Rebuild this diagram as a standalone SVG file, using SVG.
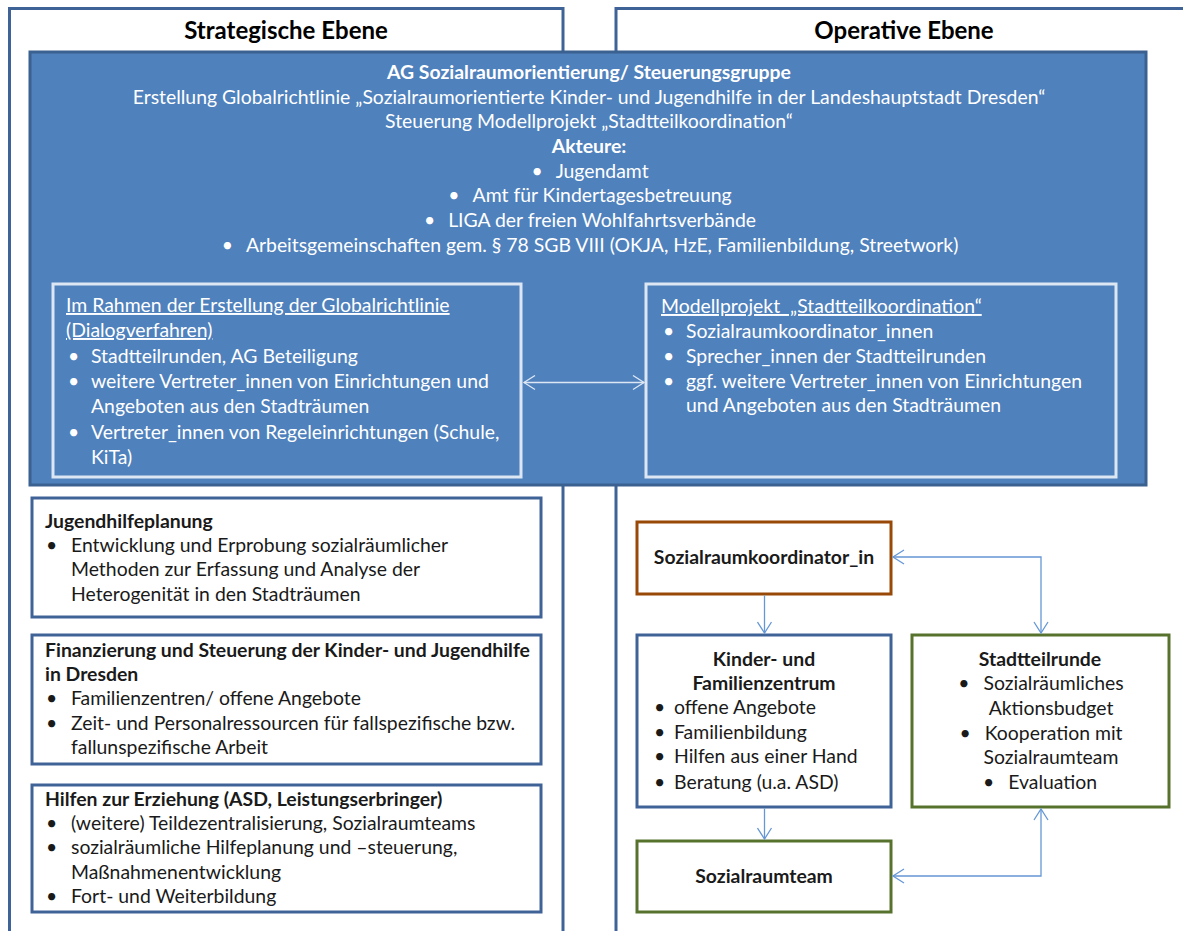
<svg xmlns="http://www.w3.org/2000/svg" width="1183" height="931" viewBox="0 0 1183 931">
<style>
text{font-family:Lato,"Liberation Sans",sans-serif;font-size:19.4px;fill:#1a1a1a}
.b{font-weight:bold}
.w{fill:#ffffff}
.h{font-size:24px;font-weight:bold;fill:#000}
.u{text-decoration:underline}
.col{fill:#fff;stroke:#3f6397;stroke-width:3}
.blue{fill:#4f81bd;stroke:#3b6190;stroke-width:3}
.inner{fill:#4f81bd;stroke:#dde7f3;stroke-width:3}
.bx{fill:#fff;stroke:#3f6397;stroke-width:3}
.or{fill:#fff;stroke:#984807;stroke-width:3}
.gr{fill:#fff;stroke:#56722d;stroke-width:3}
.con{fill:none;stroke:#6597d6;stroke-width:1.3}
.conw{fill:none;stroke:#dde7f3;stroke-width:1.3}
</style>
<defs>
<marker id="ah" markerUnits="userSpaceOnUse" markerWidth="14" markerHeight="16" refX="12" refY="8" orient="auto-start-reverse" viewBox="0 0 14 16">
<path d="M1,1 L12,8 L1,15" fill="none" stroke="#6597d6" stroke-width="1.3"/>
</marker>
<marker id="ahw" markerUnits="userSpaceOnUse" markerWidth="14" markerHeight="16" refX="12" refY="8" orient="auto-start-reverse" viewBox="0 0 14 16">
<path d="M1,1 L12,8 L1,15" fill="none" stroke="#dde7f3" stroke-width="1.3"/>
</marker>
</defs>
<rect width="1183" height="931" fill="#fff"/>

<g id="col-strategisch">
<rect class="col" x="9.5" y="8.5" width="553.5" height="940"/>
<text class="h" x="286" y="39" text-anchor="middle">Strategische Ebene</text>
</g>
<g id="col-operativ">
<rect class="col" x="616" y="8.5" width="600" height="940"/>
<text class="h" x="904" y="39" text-anchor="middle">Operative Ebene</text>
</g>

<g id="ag-steuerungsgruppe">
<rect class="blue" x="30" y="52" width="1116" height="433"/>
<text class="w b" x="589" y="79" text-anchor="middle">AG Sozialraumorientierung/ Steuerungsgruppe</text>
<text class="w" x="589" y="104" text-anchor="middle">Erstellung Globalrichtlinie „Sozialraumorientierte Kinder- und Jugendhilfe in der Landeshauptstadt Dresden“</text>
<text class="w" x="589" y="128" text-anchor="middle">Steuerung Modellprojekt „Stadtteilkoordination“</text>
<text class="w b" x="589" y="153" text-anchor="middle">Akteure:</text>
<text class="w" x="590" y="178" text-anchor="middle">•<tspan dx="13">Jugendamt</tspan></text>
<text class="w" x="590" y="202" text-anchor="middle">•<tspan dx="13">Amt für Kindertagesbetreuung</tspan></text>
<text class="w" x="590" y="227" text-anchor="middle">•<tspan dx="13">LIGA der freien Wohlfahrtsverbände</tspan></text>
<text class="w" x="590" y="252" text-anchor="middle">•<tspan dx="13">Arbeitsgemeinschaften gem. § 78 SGB VIII (OKJA, HzE, Familienbildung, Streetwork)</tspan></text>
</g>

<g id="dialogverfahren">
<rect class="inner" x="53" y="284" width="468" height="193"/>
<text class="w u" x="66" y="312">Im Rahmen der Erstellung der Globalrichtlinie</text>
<text class="w u" x="66" y="337">(Dialogverfahren)</text>
<text class="w" x="68" y="363">•</text><text class="w" x="91" y="363">Stadtteilrunden, AG Beteiligung</text>
<text class="w" x="68" y="388">•</text><text class="w" x="91" y="388">weitere Vertreter_innen von Einrichtungen und</text>
<text class="w" x="91" y="413">Angeboten aus den Stadträumen</text>
<text class="w" x="68" y="439">•</text><text class="w" x="91" y="439">Vertreter_innen von Regeleinrichtungen (Schule,</text>
<text class="w" x="91" y="464">KiTa)</text>
</g>

<g id="modellprojekt">
<rect class="inner" x="646" y="284" width="470" height="193"/>
<text class="w u" x="661" y="313" xml:space="preserve">Modellprojekt  „Stadtteilkoordination“</text>
<text class="w" x="663" y="338">•</text><text class="w" x="686" y="338">Sozialraumkoordinator_innen</text>
<text class="w" x="663" y="363">•</text><text class="w" x="686" y="363">Sprecher_innen der Stadtteilrunden</text>
<text class="w" x="663" y="388">•</text><text class="w" x="686" y="388">ggf. weitere Vertreter_innen von Einrichtungen</text>
<text class="w" x="686" y="412">und Angeboten aus den Stadträumen</text>
</g>

<g id="jugendhilfeplanung">
<rect class="bx" x="32" y="498" width="509" height="119"/>
<text class="b" x="45" y="528">Jugendhilfeplanung</text>
<text x="46" y="552">•</text><text x="71" y="552">Entwicklung und Erprobung sozialräumlicher</text>
<text x="71" y="576">Methoden zur Erfassung und Analyse der</text>
<text x="71" y="601">Heterogenität in den Stadträumen</text>
</g>

<g id="finanzierung">
<rect class="bx" x="32" y="635" width="509" height="129"/>
<text class="b" x="45" y="657">Finanzierung und Steuerung der Kinder- und Jugendhilfe</text>
<text class="b" x="45" y="681">in Dresden</text>
<text x="46" y="705">•</text><text x="71" y="705">Familienzentren/ offene Angebote</text>
<text x="46" y="730">•</text><text x="71" y="730">Zeit- und Personalressourcen für fallspezifische bzw.</text>
<text x="71" y="754">fallunspezifische Arbeit</text>
</g>

<g id="hilfen-erziehung">
<rect class="bx" x="32" y="785" width="509" height="127"/>
<text class="b" x="45" y="806">Hilfen zur Erziehung (ASD, Leistungserbringer)</text>
<text x="46" y="830">•</text><text x="71" y="830">(weitere) Teildezentralisierung, Sozialraumteams</text>
<text x="46" y="854">•</text><text x="71" y="854">sozialräumliche Hilfeplanung und –steuerung,</text>
<text x="71" y="879">Maßnahmenentwicklung</text>
<text x="46" y="903">•</text><text x="71" y="903">Fort- und Weiterbildung</text>
</g>

<g id="sozialraumkoordinator">
<rect class="or" x="637" y="522" width="254" height="72"/>
<text class="b" x="764" y="564" text-anchor="middle">Sozialraumkoordinator_in</text>
</g>

<g id="kinder-familienzentrum">
<rect class="bx" x="637" y="635" width="254" height="172"/>
<text class="b" x="764" y="666" text-anchor="middle">Kinder- und</text>
<text class="b" x="764" y="690" text-anchor="middle">Familienzentrum</text>
<text x="654" y="714">•</text><text x="674" y="714">offene Angebote</text>
<text x="654" y="739">•</text><text x="674" y="739">Familienbildung</text>
<text x="654" y="763">•</text><text x="674" y="763">Hilfen aus einer Hand</text>
<text x="654" y="789">•</text><text x="674" y="789">Beratung (u.a. ASD)</text>
</g>

<g id="stadtteilrunde">
<rect class="gr" x="912" y="635" width="257" height="172"/>
<text class="b" x="1040" y="666" text-anchor="middle">Stadtteilrunde</text>
<text x="1041" y="690" text-anchor="middle">•<tspan dx="14">Sozialräumliches</tspan></text>
<text x="1051" y="715" text-anchor="middle">Aktionsbudget</text>
<text x="1041" y="740" text-anchor="middle">•<tspan dx="14">Kooperation mit</tspan></text>
<text x="1051" y="764" text-anchor="middle">Sozialraumteam</text>
<text x="1040" y="789" text-anchor="middle">•<tspan dx="14">Evaluation</tspan></text>
</g>

<g id="sozialraumteam">
<rect class="gr" x="637" y="841" width="254" height="71"/>
<text class="b" x="764" y="883" text-anchor="middle">Sozialraumteam</text>
</g>

<g id="connectors">
<path class="conw" d="M524,382.5 H644" marker-start="url(#ahw)" marker-end="url(#ahw)"/>
<path class="con" d="M764.5,595.5 V633" marker-end="url(#ah)"/>
<path class="con" d="M893,557 H1041 V633" marker-start="url(#ah)" marker-end="url(#ah)"/>
<path class="con" d="M764.5,808.5 V839" marker-end="url(#ah)"/>
<path class="con" d="M893,876 H1041 V809" marker-start="url(#ah)" marker-end="url(#ah)"/>
</g>
</svg>
